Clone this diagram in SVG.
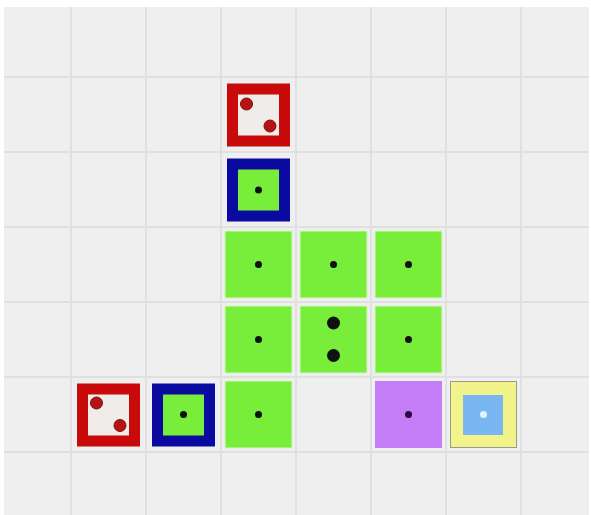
<svg xmlns="http://www.w3.org/2000/svg" width="591" height="515" viewBox="0 0 591 515">
<style>
.grid line{stroke:#e0e0e0;stroke-width:2}
.g{fill:#78ee3a;stroke:#d6f7c4;stroke-width:1}
.dot{fill:#111}
.red{fill:#f0ecea;stroke:#c80a0a;stroke-width:11}
.rdot{fill:#b41414;stroke:#8a0a0a;stroke-width:1}
.blue{fill:#78ee3a;stroke:#0a0aa0;stroke-width:11}
</style>
<rect x="0" y="0" width="591" height="515" fill="#ffffff"/>
<rect x="4" y="7" width="585" height="508" fill="#efefef"/>
<g class="grid">
<line x1="71" y1="7" x2="71" y2="515"/>
<line x1="146" y1="7" x2="146" y2="515"/>
<line x1="221" y1="7" x2="221" y2="515"/>
<line x1="296" y1="7" x2="296" y2="515"/>
<line x1="371" y1="7" x2="371" y2="515"/>
<line x1="446" y1="7" x2="446" y2="515"/>
<line x1="521" y1="7" x2="521" y2="515"/>
<line x1="4" y1="77" x2="589" y2="77"/>
<line x1="4" y1="152" x2="589" y2="152"/>
<line x1="4" y1="227" x2="589" y2="227"/>
<line x1="4" y1="302" x2="589" y2="302"/>
<line x1="4" y1="377" x2="589" y2="377"/>
<line x1="4" y1="452" x2="589" y2="452"/>
</g>
<g id="red-top">
<rect class="red" x="232.5" y="89" width="52" height="52"/>
<circle class="rdot" cx="246.5" cy="104" r="6"/>
<circle class="rdot" cx="270" cy="126" r="6"/>
</g>
<g id="blue-top">
<rect class="blue" x="232.5" y="164" width="52" height="52"/>
<circle class="dot" cx="258.5" cy="190" r="3.5"/>
</g>
<g id="g-3-3"><rect class="g" x="225" y="231" width="67" height="67"/><circle class="dot" cx="258.5" cy="264.5" r="3.5"/></g>
<g id="g-4-3"><rect class="g" x="300" y="231" width="67" height="67"/><circle class="dot" cx="333.5" cy="264.5" r="3.5"/></g>
<g id="g-5-3"><rect class="g" x="375" y="231" width="67" height="67"/><circle class="dot" cx="408.5" cy="264.5" r="3.5"/></g>
<g id="g-3-4"><rect class="g" x="225" y="306" width="67" height="67"/><circle class="dot" cx="258.5" cy="339.5" r="3.5"/></g>
<g id="g-4-4"><rect class="g" x="300" y="306" width="67" height="67"/><circle class="dot" cx="333.5" cy="323" r="6.5"/><circle class="dot" cx="333.5" cy="355.5" r="6.5"/></g>
<g id="g-5-4"><rect class="g" x="375" y="306" width="67" height="67"/><circle class="dot" cx="408.5" cy="339.5" r="3.5"/></g>
<g id="g-3-5"><rect class="g" x="225" y="381" width="67" height="67"/><circle class="dot" cx="258.5" cy="414.5" r="3.5"/></g>
<g id="red-bottom">
<rect class="red" x="82.5" y="389" width="52" height="52"/>
<circle class="rdot" cx="96.5" cy="403" r="6"/>
<circle class="rdot" cx="120" cy="425.5" r="6"/>
</g>
<g id="blue-bottom">
<rect class="blue" x="157.5" y="389" width="52" height="52"/>
<circle class="dot" cx="183.5" cy="414.5" r="3.5"/>
</g>
<g id="purple">
<rect x="375" y="381" width="67" height="67" fill="#c47cf7"/>
<circle cx="408.5" cy="414.5" r="3.5" fill="#2a0640"/>
</g>
<g id="yellow">
<rect x="450.5" y="381.5" width="66" height="66" fill="#f3f38c" stroke="#9a9a8a" stroke-width="1"/>
<rect x="463" y="395" width="40" height="40" fill="#7ab6f2"/>
<circle cx="483.5" cy="414.5" r="3.5" fill="#dff6ff"/>
</g>
<g id="connectors"/>
</svg>
